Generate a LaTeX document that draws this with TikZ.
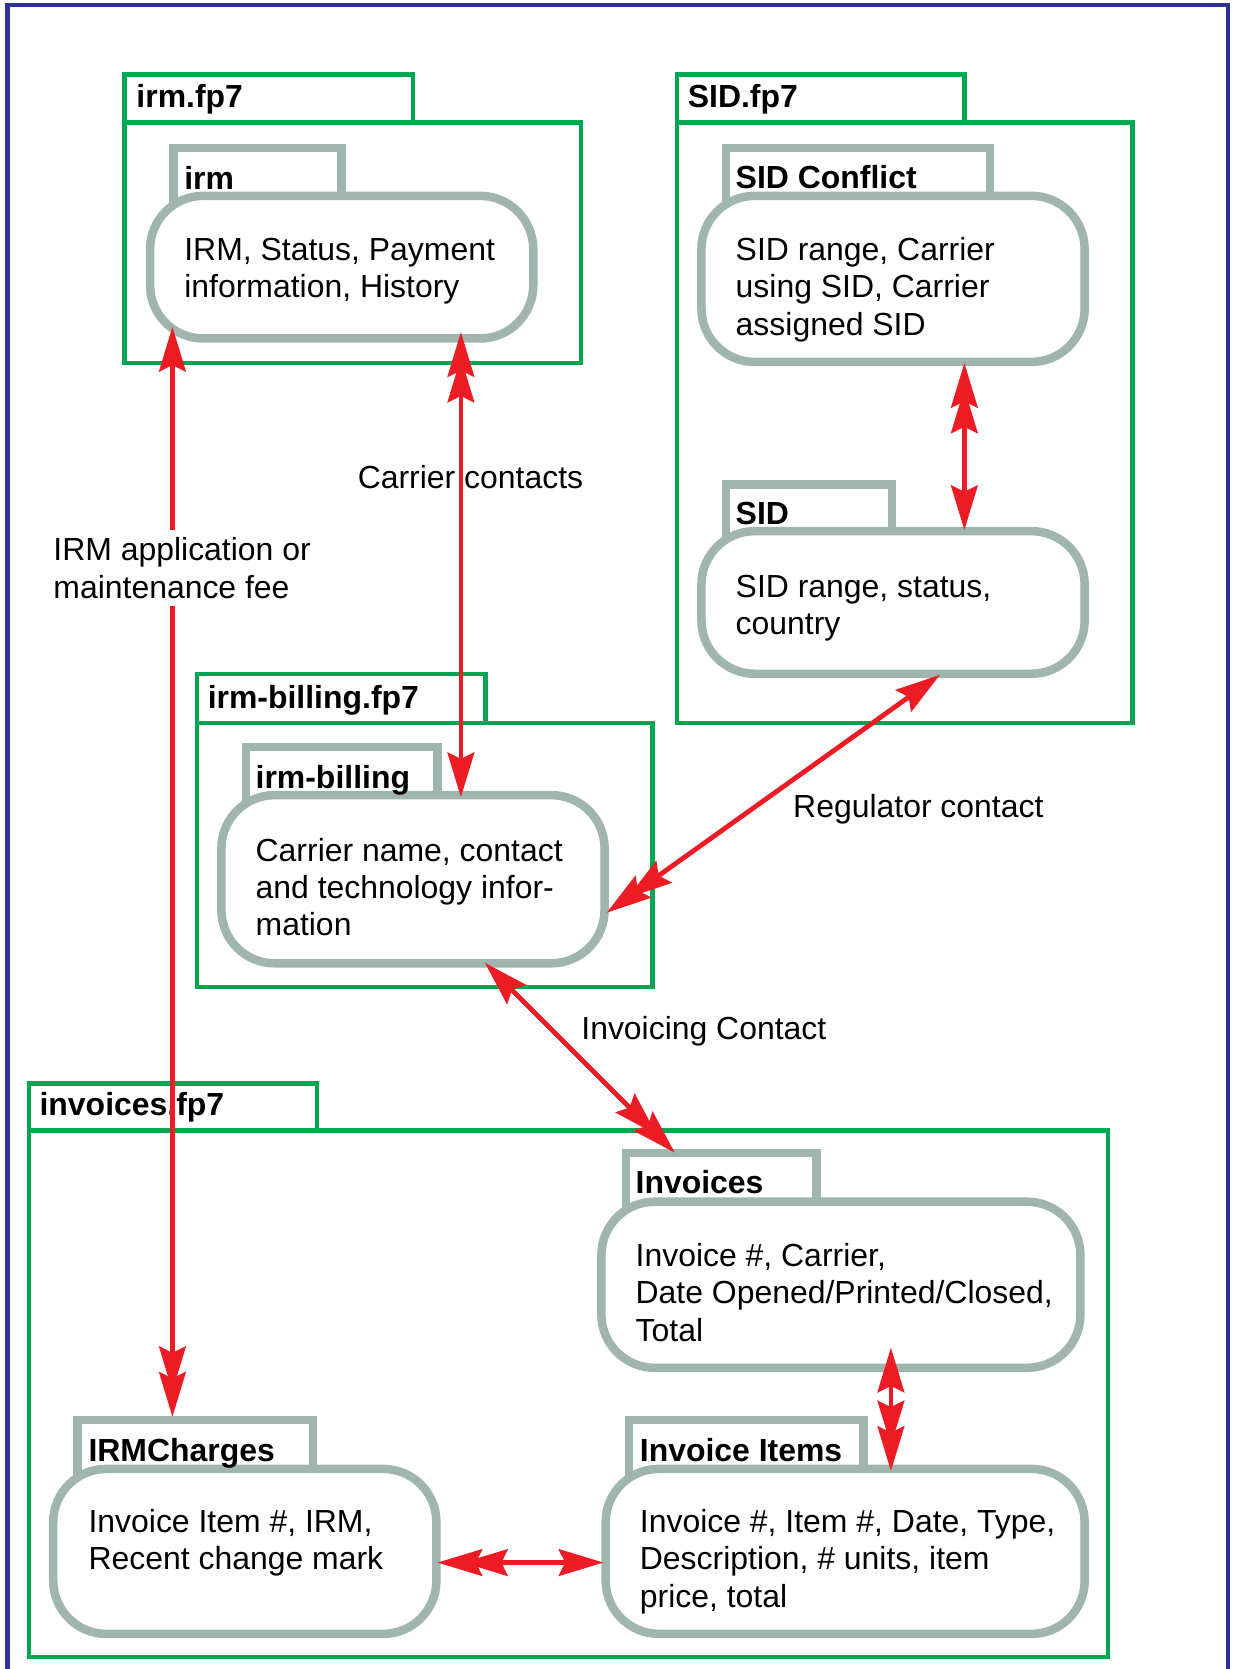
\documentclass[tikz,border=0pt]{standalone}
\usepackage{fontspec}
\setmainfont{Liberation Sans}
\usetikzlibrary{arrows.meta,calc}
\definecolor{pkggreen}{RGB}{0,166,81}
\definecolor{tblgray}{RGB}{159,181,173}
\definecolor{arrred}{RGB}{237,28,36}
\definecolor{frameblue}{RGB}{46,49,146}
\newcommand\tstrut{\rule{0pt}{22pt}}
\tikzset{
  Sgl/.tip={Stealth[length=42pt,width=25pt,inset=6pt]},
  Dbl/.tip={Stealth[length=42pt,width=25pt,inset=6pt,sep=-18pt]Stealth[length=42pt,width=25pt,inset=6pt]}
}
\begin{document}
\begin{tikzpicture}[x=1pt,y=-1pt,
  pkg/.style={draw=pkggreen,line width=4pt,rectangle,inner sep=0pt,outer sep=0pt},
  tbltab/.style={draw=tblgray,fill=white,line width=8pt,rectangle,inner sep=0pt,outer sep=0pt},
  tblbox/.style={draw=tblgray,fill=white,line width=8pt,rectangle,rounded corners=50pt,inner sep=0pt,outer sep=0pt},
  lbl/.style={inner sep=0pt,font=\fontsize{30}{35}\selectfont\bfseries,anchor=base west},
  bodytext/.style={inner sep=0pt,font=\fontsize{30}{35}\selectfont,anchor=north west,align=left},
  note/.style={inner sep=0pt,font=\fontsize{30}{35}\selectfont,anchor=base west},
  link/.style={draw=arrred,line width=4.5pt,arrows={-},fill=arrred}
]
\useasboundingbox (0,0) rectangle (1158,1568);
\fill[white] (0,0) rectangle (1158,1568);
\draw[frameblue,line width=4pt] (7,1580) -- (7,5) -- (1154,5) -- (1154,1580);

% packages
\node[pkg,minimum width=271,minimum height=45] (irmfptab) at (252.5,92.5) {};
\node[pkg,minimum width=429,minimum height=226] (irmfp) at (331.5,228) {};
\node[pkg,minimum width=270,minimum height=45] (sidfptab) at (771,92.5) {};
\node[pkg,minimum width=428,minimum height=564] (sidfp) at (850,397) {};
\node[pkg,minimum width=271,minimum height=46] (billfptab) at (320.5,656) {};
\node[pkg,minimum width=428,minimum height=248] (billfp) at (399,803) {};
\node[pkg,minimum width=271,minimum height=44] (invfptab) at (162.5,1040) {};
\node[pkg,minimum width=1014,minimum height=495] (invfp) at (534,1309.5) {};

% table tabs
\node[tbltab,minimum width=158,minimum height=65] (irmtab) at (242,171.5) {};
\node[tbltab,minimum width=248,minimum height=65] (sidctab) at (806,171.5) {};
\node[tbltab,minimum width=156,minimum height=64] (sidtab) at (760,487) {};
\node[tbltab,minimum width=180,minimum height=65] (billtab) at (321,734.5) {};
\node[tbltab,minimum width=179,minimum height=66] (invtab) at (677.5,1116) {};
\node[tbltab,minimum width=221,minimum height=66] (chtab) at (183.5,1367) {};
\node[tbltab,minimum width=220,minimum height=66] (itemtab) at (701,1367) {};

% table boxes
\node[tblbox,minimum width=360,minimum height=134] (irmbox) at (321,251) {};
\node[tblbox,minimum width=360,minimum height=156] (sidcbox) at (839,262) {};
\node[tblbox,minimum width=360,minimum height=134] (sidbox) at (839,566) {};
\node[tblbox,minimum width=360,minimum height=158] (billbox) at (388,826) {};
\node[tblbox,minimum width=450,minimum height=156] (invbox) at (790,1207) {};
\node[tblbox,minimum width=360,minimum height=155] (chbox) at (230,1457.5) {};
\node[tblbox,minimum width=450,minimum height=155] (itembox) at (794,1457.5) {};

% package labels
\node[lbl] (irmfplbl) at (128,100.7) {irm.fp7};
\node[lbl] (sidfplbl) at (646,100.7) {SID.fp7};
\node[lbl] (billfplbl) at (195,665.7) {irm-billing.fp7};
\node[lbl] (invfplbl) at (37,1047.7) {invoices.fp7};

% table labels
\node[lbl] (irmlbl) at (173,177.7) {irm};
\node[lbl] (sidclbl) at (691,176.7) {SID Conflict};
\node[lbl] (sidlbl) at (691,492.7) {SID};
\node[lbl] (billlbl) at (240,740.7) {irm-billing};
\node[lbl] (invlbl) at (597,1121.7) {Invoices};
\node[lbl] (chlbl) at (83,1372.7) {IRMCharges};
\node[lbl] (itemlbl) at (601,1372.7) {Invoice Items};

% table contents
\node[bodytext] (irmtxt) at (173,222.7) {\tstrut IRM, Status, Payment\\information, History};
\node[bodytext] (sidctxt) at (691,222.7) {\tstrut SID range, Carrier\\using SID, Carrier\\assigned SID};
\node[bodytext] (sidtxt) at (691,538.7) {\tstrut SID range, status,\\country};
\node[bodytext] (billtxt) at (240,786.7) {\tstrut Carrier name, contact\\and technology infor-\\mation};
\node[bodytext] (invtxt) at (597,1167.7) {\tstrut Invoice \#, Carrier,\\Date Opened/Printed/Closed,\\Total};
\node[bodytext] (chtxt) at (83,1417.7) {\tstrut Invoice Item \#, IRM,\\Recent change mark};
\node[bodytext] (itemtxt) at (601,1417.7) {\tstrut Invoice \#, Item \#, Date, Type,\\Description, \# units, item\\price, total};

% connector labels
\node[note,anchor=base] (carrierlbl) at (442,458.7) {Carrier contacts};
\node[note] (reglbl) at (745,767.7) {Regulator contact};
\node[note] (invclbl) at (546,976.7) {Invoicing Contact};

% connectors
\draw[link,{Sgl}-{Dbl}] ($(irmbox.south west)+(21,-11)$) -- ($(chtab.north)+(-21.5,-3)$);
\draw[link,{Dbl}-{Sgl}] ($(irmbox.south)+(112,-6)$) -- ($(billbox.north)+(45,2)$);
\draw[link,{Dbl}-{Sgl}] ($(sidcbox.south)+(67,1)$) -- ($(sidbox.north)+(67,-1)$);
\draw[link,{Sgl}-{Dbl}] ($(sidbox.south)+(44,1)$) -- ($(billbox.east)+(2,31.5)$);
\draw[link,{Sgl}-{Dbl}] ($(billbox.south)+(67.5,-0.5)$) -- ($(invtab.north)+(-43.5,0)$);
\draw[link,{Sgl}-{Dbl}] ($(invbox.south)+(47,-19)$) -- ($(itembox.north)+(43,2)$);
\draw[link,{Dbl}-{Sgl}] ($(chbox.east)+(1,10.5)$) -- ($(itembox.west)+(-2,10.5)$);

% label over the long connector
\node[note,anchor=north west,align=left,fill=white,inner xsep=3pt,inner ysep=7pt] (irmfeelbl) at (47,497.7) {\tstrut IRM application or\\maintenance fee};
\end{tikzpicture}
\end{document}
